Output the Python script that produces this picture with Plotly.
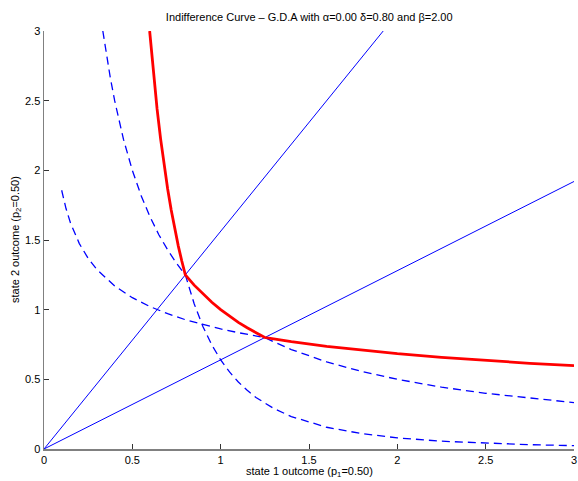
import plotly.graph_objects as go

# Red indifference curve
red_x = [0.598, 0.62, 0.64, 0.66, 0.68, 0.70, 0.72, 0.74, 0.76, 0.78, 0.80,
         0.85, 0.90, 0.95, 1.00, 1.05, 1.10, 1.15, 1.20, 1.25,
         1.30, 1.40, 1.60, 1.80, 2.00, 2.25, 2.50, 2.75, 3.00]
red_y = [3.00, 2.685, 2.441, 2.226, 2.035, 1.866, 1.715, 1.579, 1.458, 1.349, 1.25,
         1.176, 1.111, 1.053, 1.000, 0.952, 0.909, 0.870, 0.833, 0.80,
         0.790, 0.770, 0.737, 0.708, 0.684, 0.658, 0.635, 0.615, 0.598]

# Flatter dashed curve
dash1_x = [0.10, 0.125, 0.15, 0.20, 0.25, 0.30, 0.40, 0.50, 0.60, 0.70, 0.80, 0.90,
           1.00, 1.10, 1.25, 1.30, 1.40, 1.60, 1.80, 2.00, 2.25, 2.50, 2.75, 3.00]
dash1_y = [1.857, 1.724, 1.622, 1.474, 1.368, 1.287, 1.170, 1.086, 1.022, 0.971, 0.928, 0.893,
           0.862, 0.835, 0.80, 0.769, 0.714, 0.625, 0.556, 0.500, 0.444, 0.400, 0.364, 0.333]

# Steeper dashed curve
dash2_x = [0.333, 0.35, 0.375, 0.40, 0.45, 0.50, 0.55, 0.60, 0.65, 0.70, 0.75, 0.80,
           0.85, 0.90, 0.95, 1.00, 1.05, 1.10, 1.15, 1.20, 1.30, 1.40, 1.60, 1.80,
           2.00, 2.25, 2.50, 2.75, 3.00]
dash2_y = [3.00, 2.857, 2.667, 2.50, 2.222, 2.00, 1.818, 1.667, 1.538, 1.429, 1.333, 1.25,
           1.042, 0.878, 0.747, 0.640, 0.553, 0.481, 0.421, 0.370, 0.291, 0.233, 0.156, 0.110,
           0.080, 0.056, 0.041, 0.031, 0.024]

# Rays from origin
ray1_x = [0, 1.92]
ray1_y = [0, 3.0]
ray2_x = [0, 3.0]
ray2_y = [0, 1.92]

tick_vals = [0, 0.5, 1, 1.5, 2, 2.5, 3]
tick_text = ["0", "0.5", "1", "1.5", "2", "2.5", "3"]

blue = "#0000FF"
red = "#FF0000"

fig = go.Figure()
fig.add_trace(go.Scatter(x=ray1_x, y=ray1_y, mode="lines", line=dict(color=blue, width=1)))
fig.add_trace(go.Scatter(x=ray2_x, y=ray2_y, mode="lines", line=dict(color=blue, width=1)))
fig.add_trace(go.Scatter(x=dash1_x, y=dash1_y, mode="lines",
                         line=dict(color=blue, width=1.3, dash="8px,5px")))
fig.add_trace(go.Scatter(x=dash2_x, y=dash2_y, mode="lines",
                         line=dict(color=blue, width=1.3, dash="8px,5px")))
fig.add_trace(go.Scatter(x=red_x, y=red_y, mode="lines", line=dict(color=red, width=2.8)))

font = "Liberation Sans, Arial, Helvetica, sans-serif"
axis_common = dict(
    range=[0, 3], tickvals=tick_vals, ticktext=tick_text, automargin=False,
    showgrid=False, zeroline=False, showline=True, linecolor="#808080", linewidth=1.5,
    ticks="inside", ticklen=5, tickcolor="#333333", tickwidth=1,
    tickfont=dict(family=font, size=11, color="black"), mirror=False,
)

fig.update_layout(
    width=578, height=481,
    margin=dict(l=44, r=4, t=31, b=32),
    paper_bgcolor="white", plot_bgcolor="white",
    showlegend=False,
    xaxis=axis_common,
    yaxis=axis_common,
    title=dict(text="Indifference Curve – G.D.A with α=0.00 δ=0.80 and β=2.00",
               x=0.535, xanchor="center", y=1 - 17 / 481, yanchor="middle",
               font=dict(family=font, size=11, color="black")),
    annotations=[
        dict(text="state 1 outcome (p<sub>1</sub>=0.50)", xref="paper", yref="paper",
             x=0.5, y=0, xanchor="center", yanchor="middle", yshift=-23,
             showarrow=False, font=dict(family=font, size=11, color="black")),
        dict(text="state 2 outcome (p<sub>2</sub>=0.50)", xref="paper", yref="paper",
             x=0, y=0.5, xanchor="center", yanchor="middle", xshift=-28, textangle=-90,
             showarrow=False, font=dict(family=font, size=11, color="black")),
    ],
)

fig.write_html(
    "out.html",
    config={"displayModeBar": False, "staticPlot": True},
    post_script="document.body.style.margin='0px'; document.body.style.overflow='hidden';",
)
